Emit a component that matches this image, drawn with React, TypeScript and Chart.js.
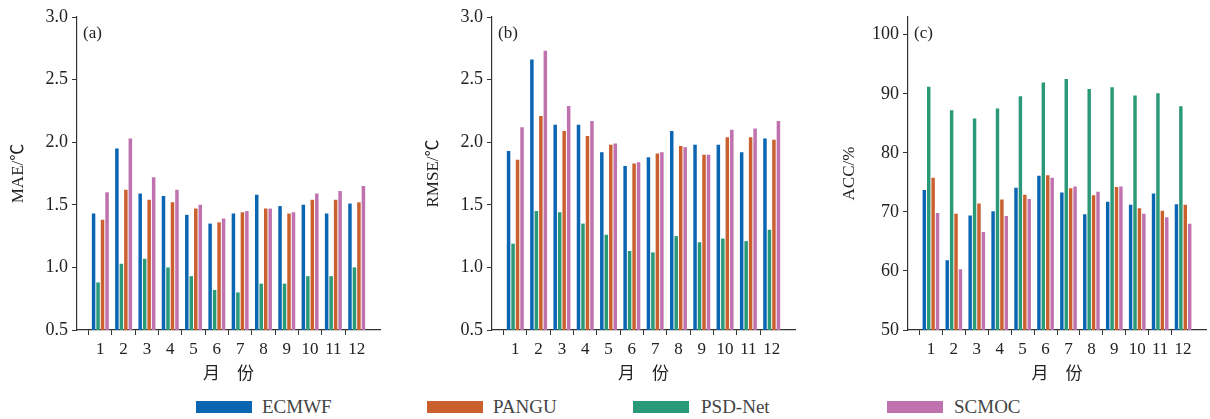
import React, { useEffect, useRef } from 'react';
import { Chart, registerables } from 'chart.js';

Chart.register(...registerables);

const months = ['1', '2', '3', '4', '5', '6', '7', '8', '9', '10', '11', '12'];
const seriesNames = ['ECMWF', 'PANGU', 'PSD-Net', 'SCMOC'];
const seriesColors = ['#0a66b2', '#c9602e', '#2a9978', '#bf72ae'];

const maeECMWF = [1.43, 1.95, 1.59, 1.57, 1.42, 1.35, 1.43, 1.58, 1.49, 1.5, 1.43, 1.51];
const maePANGU = [1.38, 1.62, 1.54, 1.52, 1.47, 1.36, 1.44, 1.47, 1.43, 1.54, 1.54, 1.52];
const maePSD = [0.88, 1.03, 1.07, 1.0, 0.93, 0.82, 0.8, 0.87, 0.87, 0.93, 0.93, 1.0];
const maeSCMOC = [1.6, 2.03, 1.72, 1.62, 1.5, 1.39, 1.45, 1.47, 1.44, 1.59, 1.61, 1.65];

const rmseECMWF = [1.93, 2.66, 2.14, 2.14, 1.92, 1.81, 1.88, 2.09, 1.98, 1.98, 1.92, 2.03];
const rmsePANGU = [1.86, 2.21, 2.09, 2.05, 1.98, 1.83, 1.91, 1.97, 1.9, 2.04, 2.04, 2.02];
const rmsePSD = [1.19, 1.45, 1.44, 1.35, 1.26, 1.13, 1.12, 1.25, 1.2, 1.23, 1.21, 1.3];
const rmseSCMOC = [2.12, 2.73, 2.29, 2.17, 1.99, 1.84, 1.92, 1.96, 1.9, 2.1, 2.11, 2.17];

const accECMWF = [73.7, 61.8, 69.4, 70.1, 74.1, 76.1, 73.3, 69.6, 71.7, 71.2, 73.1, 71.3];
const accPANGU = [75.8, 69.7, 71.4, 72.1, 72.9, 76.2, 74.0, 72.8, 74.2, 70.6, 70.2, 71.2];
const accPSD = [91.2, 87.2, 85.8, 87.5, 89.6, 91.9, 92.5, 90.8, 91.1, 89.7, 90.1, 87.9];
const accSCMOC = [69.8, 60.3, 66.6, 69.3, 72.2, 75.8, 74.3, 73.4, 74.3, 69.7, 69.1, 68.0];

const FONT = "'Liberation Serif', 'Noto Sans CJK SC', serif";
const CANVAS_H = 390;

type Panel = {
  left: number;
  width: number;
  rightPad: number;
  min: number;
  max: number;
  step: number;
  decimals: number;
  yTitle: string;
  tag: string;
  ecmwf: number[];
  pangu: number[];
  psd: number[];
  scmoc: number[];
};

const panels: Panel[] = [
  { left: 0, width: 400, rightPad: 20, min: 0.5, max: 3.0, step: 0.5, decimals: 1, yTitle: 'MAE/℃', tag: '(a)', ecmwf: maeECMWF, pangu: maePANGU, psd: maePSD, scmoc: maeSCMOC },
  { left: 415, width: 400, rightPad: 20, min: 0.5, max: 3.0, step: 0.5, decimals: 1, yTitle: 'RMSE/℃', tag: '(b)', ecmwf: rmseECMWF, pangu: rmsePANGU, psd: rmsePSD, scmoc: rmseSCMOC },
  { left: 831, width: 379, rightPad: 0, min: 50, max: 103, step: 10, decimals: 0, yTitle: 'ACC/%', tag: '(c)', ecmwf: accECMWF, pangu: accPANGU, psd: accPSD, scmoc: accSCMOC },
];

const legendPos = [
  { swatch: 196, text: 262 },
  { swatch: 427, text: 493 },
  { swatch: 633, text: 701 },
  { swatch: 887, text: 954 },
];

function pad(arr: number[]) {
  return [null, ...arr, null];
}

function makeChart(canvas: HTMLCanvasElement, p: Panel) {
  const labels = ['', ...months, ''];
  const last = labels.length - 1;
  const tagPlugin = {
    id: 'panelTag',
    afterDraw(chart: any) {
      const { ctx, chartArea } = chart;
      ctx.save();
      ctx.font = `17px ${FONT}`;
      ctx.fillStyle = '#222';
      ctx.textBaseline = 'middle';
      ctx.textAlign = 'left';
      ctx.fillText(p.tag, chartArea.left + 6, chartArea.top + 17);
      ctx.restore();
    },
  };
  const order = [
    { name: 'ECMWF', data: p.ecmwf, color: seriesColors[0] },
    { name: 'PSD-Net', data: p.psd, color: seriesColors[2] },
    { name: 'PANGU', data: p.pangu, color: seriesColors[1] },
    { name: 'SCMOC', data: p.scmoc, color: seriesColors[3] },
  ];
  return new Chart(canvas, {
    type: 'bar',
    data: {
      labels,
      datasets: order.map((s) => ({
        label: s.name,
        data: pad(s.data) as any,
        backgroundColor: s.color,
        borderWidth: 0,
        categoryPercentage: 0.77,
        barPercentage: 0.78,
      })),
    },
    options: {
      animation: false,
      responsive: false,
      maintainAspectRatio: false,
      layout: { padding: { left: 0, right: p.rightPad, top: 17, bottom: 0 } },
      plugins: { legend: { display: false }, tooltip: { enabled: false } },
      scales: {
        x: {
          type: 'category',
          offset: false,
          grid: {
            display: true,
            drawOnChartArea: false,
            drawTicks: true,
            tickLength: 5,
            tickWidth: 1,
            tickColor: (ctx: any) => (ctx.index === 0 || ctx.index === last ? 'rgba(0,0,0,0)' : '#333'),
          },
          border: { display: true, color: '#333', width: 1.2 },
          ticks: { autoSkip: false, maxRotation: 0, minRotation: 0, padding: 4, color: '#222', font: { family: FONT, size: 17 } },
          title: { display: true, text: '月　份', color: '#222', font: { family: FONT, size: 17 }, padding: { top: 0, bottom: 5 } },
          afterFit: (s: any) => {
            s.height = 60;
          },
        },
        y: {
          type: 'linear',
          min: p.min,
          max: p.max,
          grid: { display: true, drawOnChartArea: false, drawTicks: true, tickLength: 5, tickWidth: 1, tickColor: '#333' },
          border: { display: true, color: '#333', width: 1.2 },
          ticks: {
            stepSize: p.step,
            padding: 4,
            color: '#222',
            font: { family: FONT, size: 18 },
            callback: (v: any) => Number(v).toFixed(p.decimals),
          },
          afterBuildTicks: (s: any) => {
            const ticks: { value: number }[] = [];
            const n = Math.floor((p.max - p.min) / p.step + 1e-6);
            for (let k = 0; k <= n; k++) ticks.push({ value: +(p.min + k * p.step).toFixed(6) });
            s.ticks = ticks;
          },
          title: { display: true, text: p.yTitle, color: '#222', font: { family: FONT, size: 17 }, padding: { top: 8, bottom: 0 } },
          afterFit: (s: any) => {
            s.width = 77;
          },
        },
      },
    },
    plugins: [tagPlugin],
  } as any);
}

export default function App() {
  const refs = useRef<(HTMLCanvasElement | null)[]>([]);
  useEffect(() => {
    const charts = panels.map((p, i) => makeChart(refs.current[i] as HTMLCanvasElement, p));
    return () => charts.forEach((c) => c.destroy());
  }, []);
  return (
    <div style={{ position: 'absolute', left: 0, top: 0, width: 1210, height: 419, overflow: 'hidden', background: '#fff' }}>
      {panels.map((p, i) => (
        <canvas
          key={i}
          ref={(el) => {
            refs.current[i] = el;
          }}
          width={p.width}
          height={CANVAS_H}
          style={{ position: 'absolute', left: p.left, top: 0, width: p.width, height: CANVAS_H }}
        />
      ))}
      {seriesNames.map((name, i) => (
        <React.Fragment key={name}>
          <div style={{ position: 'absolute', left: legendPos[i].swatch, top: 401, width: 56, height: 12, background: seriesColors[i] }} />
          <div style={{ position: 'absolute', left: legendPos[i].text, top: 396, height: 22, lineHeight: '22px', fontFamily: FONT, fontSize: 19, color: '#444', whiteSpace: 'nowrap' }}>
            {name}
          </div>
        </React.Fragment>
      ))}
    </div>
  );
}
